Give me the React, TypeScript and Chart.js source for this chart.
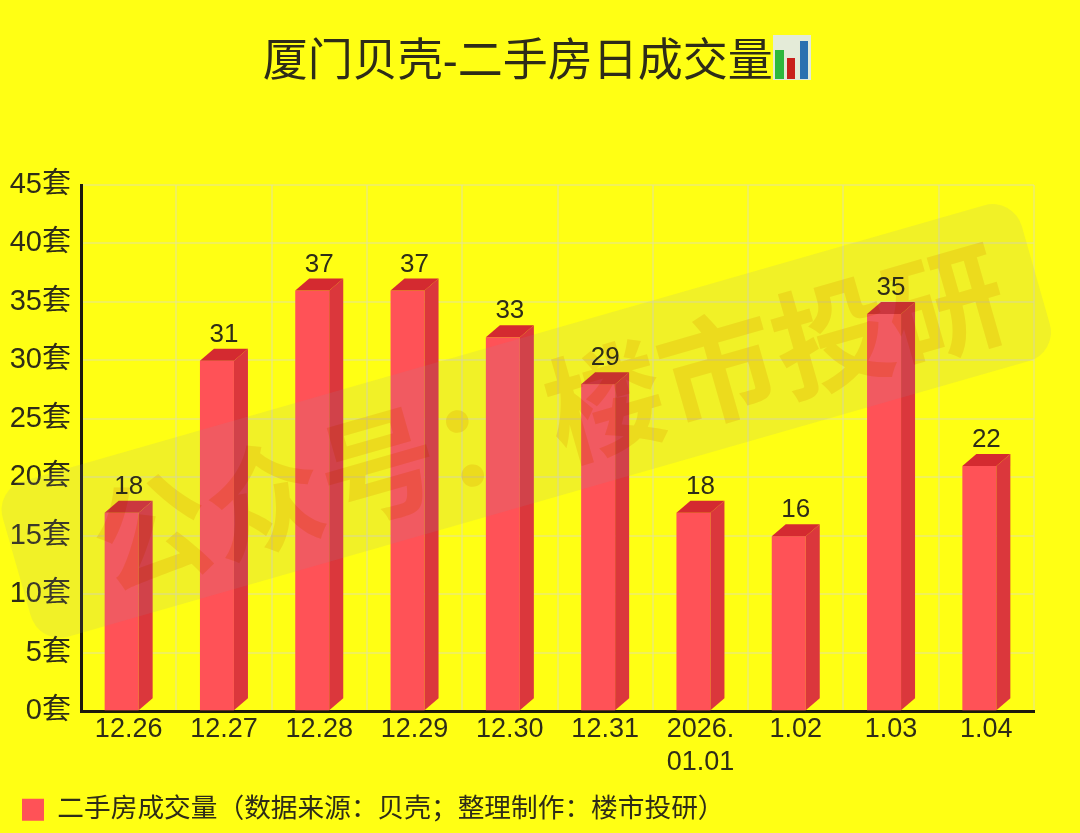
import React, { useEffect, useRef } from "react";
import { Chart, registerables } from "chart.js";

Chart.register(...registerables);

const categories: (string | string[])[] = ["12.26", "12.27", "12.28", "12.29", "12.30", "12.31", ["2026.", "01.01"], "1.02", "1.03", "1.04"];
const volumes = [18, 31, 37, 37, 33, 29, 18, 16, 35, 22];
const titleText = "厦门贝壳-二手房日成交量 ";
const legendText = "二手房成交量（数据来源：贝壳；整理制作：楼市投研）";
const watermarkText = "公众号：楼市投研";
const FONT = '"Liberation Sans","Noto Sans CJK SC",sans-serif';
const INK = "#2e2c18";

const drawWatermark = (ctx: CanvasRenderingContext2D) => {
  ctx.save();
  ctx.translate(526, 420);
  ctx.rotate((-16 * Math.PI) / 180);
  ctx.fillStyle = "rgba(150,150,170,0.13)";
  ctx.beginPath();
  (ctx as any).roundRect(-530, -80, 1060, 162, 30);
  ctx.fill();
  ctx.globalCompositeOperation = "multiply";
  ctx.fillStyle = "rgb(250,232,185)";
  ctx.font = `bold 118px "Noto Sans CJK SC",sans-serif`;
  ctx.textAlign = "center";
  ctx.textBaseline = "middle";
  ctx.fillText(watermarkText, 22, 4);
  ctx.restore();
};

const background = {
  id: "background",
  afterLayout(chart: any) {
    // the y labels are clipped to the axis box: let it reach the canvas edge
    chart.scales.y.left = 0;
  },
  beforeDraw(chart: any) {
    const { ctx, width, height } = chart;
    ctx.save();
    ctx.fillStyle = "#FFFF14";
    ctx.fillRect(0, 0, width, height);
    ctx.restore();
  },
};

const bars3d = {
  id: "bars3d",
  beforeDatasetDraw(chart: any, args: any) {
    const { ctx } = chart;
    const meta = chart.getDatasetMeta(args.index);
    const dx = 14;
    const dy = 12;
    const w = 34;
    meta.data.forEach((el: any) => {
      const l = el.x - 24;
      const r = l + w;
      const top = el.y + dy;
      const base = el.base;
      ctx.save();
      ctx.fillStyle = "#FF5257";
      ctx.fillRect(l, top, w, base - top);
      ctx.fillStyle = "#DB373C";
      ctx.beginPath();
      ctx.moveTo(r, top);
      ctx.lineTo(r + dx, el.y);
      ctx.lineTo(r + dx, base - dy);
      ctx.lineTo(r, base);
      ctx.closePath();
      ctx.fill();
      ctx.fillStyle = "#D42A30";
      ctx.beginPath();
      ctx.moveTo(l, top);
      ctx.lineTo(l + dx, el.y);
      ctx.lineTo(r + dx, el.y);
      ctx.lineTo(r, top);
      ctx.closePath();
      ctx.fill();
      ctx.restore();
    });
    return false;
  },
  afterDatasetsDraw(chart: any) {
    const { ctx } = chart;
    drawWatermark(ctx);
    const meta = chart.getDatasetMeta(0);
    ctx.save();
    ctx.font = `26px ${FONT}`;
    ctx.fillStyle = INK;
    ctx.textAlign = "center";
    ctx.textBaseline = "alphabetic";
    meta.data.forEach((el: any, i: number) => {
      ctx.fillText(String(volumes[i]), el.x, el.y - 7);
    });
    ctx.restore();
  },
};

const overlay = {
  id: "overlay",
  afterDraw(chart: any) {
    const { ctx } = chart;
    ctx.save();
    ctx.fillStyle = "#E4EBD8";
    ctx.fillRect(773, 35, 38, 45);
    ctx.fillStyle = "#2DB83D";
    ctx.fillRect(775, 50, 9, 29);
    ctx.fillStyle = "#C8201C";
    ctx.fillRect(787, 58, 8, 21);
    ctx.fillStyle = "#2A70B0";
    ctx.fillRect(800, 41, 8, 38);
    ctx.restore();
  },
};

export default function App() {
  const ref = useRef<HTMLCanvasElement>(null);
  useEffect(() => {
    document.body.style.margin = "0";
    document.body.style.background = "#FFFF14";
    const chart = new Chart(ref.current!, {
      type: "bar",
      data: {
        labels: categories as any,
        datasets: [{ label: legendText, data: volumes, backgroundColor: "#FF5257", borderWidth: 0 }],
      },
      options: {
        responsive: false,
        animation: false,
        layout: { padding: { left: 14, right: 46, top: 0, bottom: 0 } },
        plugins: {
          title: {
            display: true,
            text: titleText,
            color: INK,
            align: "center",
            font: { family: FONT, size: 45, weight: "normal" },
            padding: { top: 37, bottom: 94 },
          },
          legend: {
            position: "bottom",
            align: "start",
            labels: {
              color: INK,
              font: { family: FONT, size: 26.7 },
              boxWidth: 22,
              boxHeight: 22,
              padding: 8,
            },
          },
          tooltip: { enabled: false },
        },
        scales: {
          x: {
            grid: { color: "rgba(225,225,170,0.45)", lineWidth: 2, drawTicks: false },
            border: { color: "#1c1a0c", width: 3 },
            ticks: { color: INK, font: { family: FONT, size: 27, lineHeight: 1.22 }, padding: 2, maxRotation: 0, autoSkip: false },
            afterFit(s: any) { s.height = 77; },
          },
          y: {
            min: 0,
            max: 45,
            grid: { color: "rgba(225,225,170,0.45)", lineWidth: 2, drawTicks: false },
            border: { color: "#1c1a0c", width: 3 },
            ticks: {
              stepSize: 5,
              color: INK,
              padding: 10,
              font: { family: FONT, size: 29 },
              callback: (v: any) => `${v}套`,
            },
            afterFit(s: any) { s.width = 67; },
          },
        },
      },
      plugins: [background, bars3d, overlay],
    } as any);
    return () => chart.destroy();
  }, []);
  return <canvas ref={ref} width={1080} height={833} style={{ display: "block", background: "#FFFF14" }} />;
}
